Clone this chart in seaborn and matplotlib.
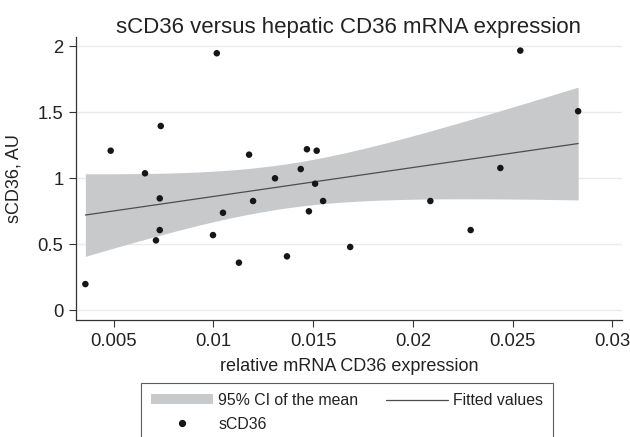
import numpy as np
import pandas as pd
import matplotlib
matplotlib.use("Agg")
import matplotlib.pyplot as plt
import seaborn as sns
from matplotlib.patches import Patch
from matplotlib.lines import Line2D

# ---- data ----
mrna = [0.00358, 0.00485, 0.01017, 0.00736, 0.00657, 0.00731, 0.00731, 0.00712,
        0.00998, 0.01048, 0.01128, 0.01179, 0.01199, 0.01309, 0.01369, 0.01438,
        0.01469, 0.01518, 0.01510, 0.01479, 0.01550, 0.01686, 0.02088, 0.02290,
        0.02439, 0.02539, 0.02829]
scd36 = [0.199, 1.209, 1.947, 1.396, 1.038, 0.848, 0.608, 0.530,
         0.570, 0.739, 0.361, 1.179, 0.828, 1.000, 0.409, 1.070,
         1.220, 1.209, 0.959, 0.750, 0.828, 0.480, 0.828, 0.608,
         1.078, 1.967, 1.508]
xticks = [0.005, 0.01, 0.015, 0.02, 0.025, 0.03]
xticklabels = ["0.005", "0.01", "0.015", "0.02", "0.025", "0.03"]
yticks = [0, 0.5, 1, 1.5, 2]
yticklabels = ["0", "0.5", "1", "1.5", "2"]
title = "sCD36 versus hepatic CD36 mRNA expression"
xlabel = "relative mRNA CD36 expression"
ylabel = "sCD36, AU"
legend_labels = ["95% CI of the mean", "sCD36", "Fitted values"]
T_975_DF25 = 2.0595  # Student t quantile for 95% CI, n-2 = 25 df

df = pd.DataFrame({"x": mrna, "y": scd36})

# ---- linear fit with 95% CI of the mean ----
x = df["x"].to_numpy()
y = df["y"].to_numpy()
n = len(x)
b1, b0 = np.polyfit(x, y, 1)
resid = y - (b0 + b1 * x)
s = np.sqrt(np.sum(resid ** 2) / (n - 2))
xbar = x.mean()
sxx = np.sum((x - xbar) ** 2)
grid = np.linspace(x.min(), x.max(), 200)
fit = b0 + b1 * grid
se = s * np.sqrt(1.0 / n + (grid - xbar) ** 2 / sxx)
lo = fit - T_975_DF25 * se
hi = fit + T_975_DF25 * se
fitdf = pd.DataFrame({"x": grid, "fit": fit})

# ---- styling ----
sns.set_theme(style="white")
plt.rcParams["font.family"] = ["Liberation Sans", "DejaVu Sans"]

fig = plt.figure(figsize=(6.3, 4.37), dpi=100)
ax = fig.add_axes([76 / 630, 1 - 320 / 437, (622 - 76) / 630, (320 - 37) / 437])

ci_color = "#c8c9cb"
line_color = "#4d4d4d"
pt_color = "#161616"

ax.fill_between(grid, lo, hi, color=ci_color, linewidth=0, zorder=1)
sns.lineplot(data=fitdf, x="x", y="fit", ax=ax, color=line_color, linewidth=0.9, zorder=2)
sns.scatterplot(data=df, x="x", y="y", ax=ax, color=pt_color, s=22, edgecolor="none", zorder=3)

ax.set_xlim(0.00311, 0.03049)
ax.set_ylim(-0.073, 2.07)
ax.set_xticks(xticks)
ax.set_xticklabels(xticklabels)
ax.set_yticks(yticks)
ax.set_yticklabels(yticklabels)

ax.yaxis.grid(True, color="#ebebeb", linewidth=1.0)
ax.xaxis.grid(False)
ax.set_axisbelow(True)

for side in ["top", "right"]:
    ax.spines[side].set_visible(False)
for side in ["left", "bottom"]:
    ax.spines[side].set_color("#333333")
    ax.spines[side].set_linewidth(0.9)

ax.tick_params(axis="both", which="major", direction="out", length=5, width=0.8,
               color="#333333", labelsize=13.3, labelcolor="#222222", pad=4,
               left=True, bottom=True)

ax.set_xlabel(xlabel, fontsize=13, color="#222222", labelpad=6)
ax.set_ylabel(ylabel, fontsize=13, color="#222222", labelpad=11)
ax.set_title(title, fontsize=16, color="#222222", pad=3)

handles = [
    Patch(facecolor=ci_color, edgecolor="none"),
    Line2D([], [], marker="o", linestyle="none", color=pt_color, markersize=4.2),
    Line2D([], [], color=line_color, linewidth=0.9),
]
leg = ax.legend(handles, legend_labels, ncol=2, loc="upper left",
                bbox_to_anchor=(141 / 630, 1 - 383 / 437),
                bbox_transform=fig.transFigure, borderaxespad=0,
                frameon=True, fancybox=False, fontsize=11.4,
                handlelength=3.9, handleheight=0.6, handletextpad=0.35,
                columnspacing=1.75, labelspacing=0.55, borderpad=0.62)
leg.get_frame().set_edgecolor("#333333")
leg.get_frame().set_linewidth(0.8)
for t in leg.get_texts():
    t.set_color("#222222")

fig.savefig("out.png", dpi=100)
